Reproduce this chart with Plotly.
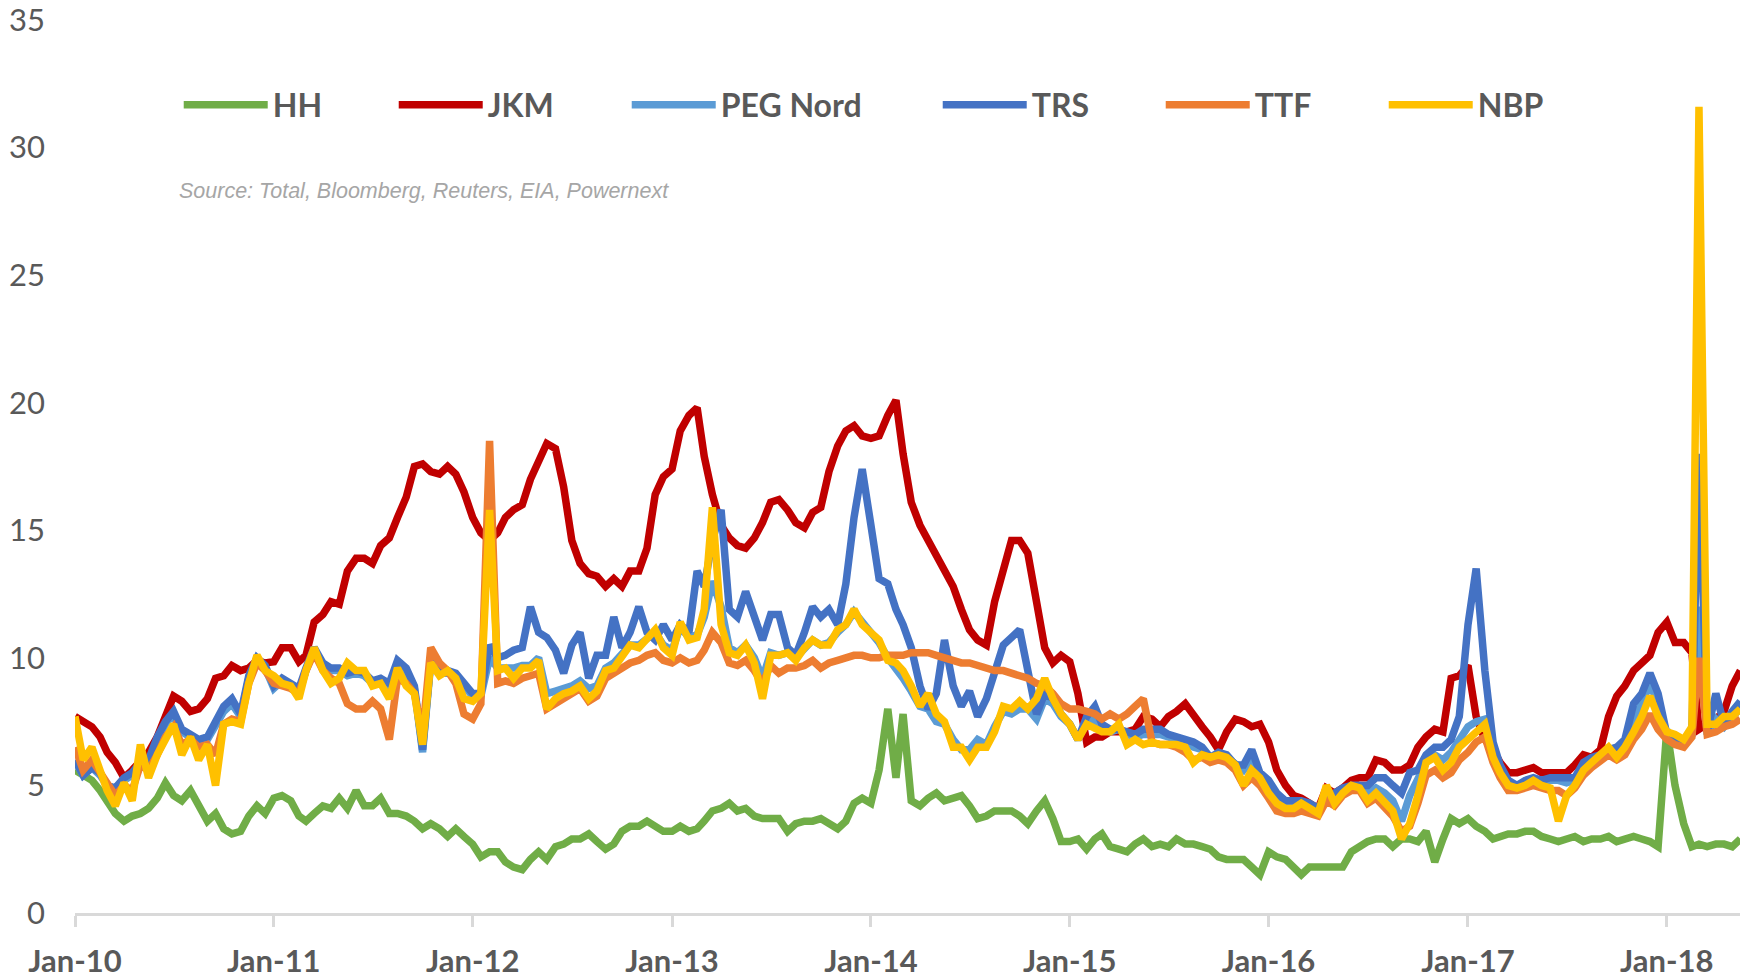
import plotly.graph_objects as go

# semi-monthly sample dates (1st and 16th of each month) from Jan 2010
def semi_monthly(n):
    out = []
    y, m = 2010, 1
    while len(out) < n:
        out.append(f"{y:04d}-{m:02d}-01")
        if len(out) < n:
            out.append(f"{y:04d}-{m:02d}-16")
        m += 1
        if m > 12:
            m, y = 1, y + 1
    return out

HH = [5.6, 5.4, 5.2, 4.8, 4.4, 3.9, 3.6, 3.8, 3.9, 4.1,
      4.5, 5.1, 4.6, 4.4, 4.8, 4.2, 3.6, 3.9, 3.3, 3.1,
      3.2, 3.8, 4.2, 3.9, 4.5, 4.6, 4.4, 3.8, 3.6, 3.9,
      4.2, 4.1, 4.5, 4.1, 4.8, 4.2, 4.2, 4.5, 3.9, 3.9,
      3.8, 3.6, 3.3, 3.5, 3.3, 3.0, 3.3, 3.0, 2.7, 2.2,
      2.4, 2.4, 2.0, 1.8, 1.7, 2.1, 2.4, 2.1, 2.6, 2.7,
      2.9, 2.9, 3.1, 2.8, 2.5, 2.7, 3.2, 3.4, 3.4, 3.6,
      3.4, 3.2, 3.2, 3.4, 3.2, 3.3, 3.6, 4.0, 4.1, 4.3,
      4.0, 4.1, 3.8, 3.7, 3.7, 3.7, 3.2, 3.5, 3.6, 3.6,
      3.7, 3.5, 3.3, 3.6, 4.3, 4.5, 4.3, 5.6, 8.0, 5.3,
      7.8, 4.4, 4.2, 4.5, 4.7, 4.4, 4.5, 4.6, 4.2, 3.7,
      3.8, 4.0, 4.0, 4.0, 3.8, 3.5, 4.0, 4.4, 3.7, 2.8,
      2.8, 2.9, 2.5, 2.9, 3.1, 2.6, 2.5, 2.4, 2.7, 2.9,
      2.6, 2.7, 2.6, 2.9, 2.7, 2.7, 2.6, 2.5, 2.2, 2.1,
      2.1, 2.1, 1.8, 1.5, 2.4, 2.2, 2.1, 1.8, 1.5, 1.8,
      1.8, 1.8, 1.8, 1.8, 2.4, 2.6, 2.8, 2.9, 2.9, 2.6,
      2.9, 2.9, 2.8, 3.2, 2.0, 2.9, 3.7, 3.5, 3.7, 3.4,
      3.2, 2.9, 3.0, 3.1, 3.1, 3.2, 3.2, 3.0, 2.9, 2.8,
      2.9, 3.0, 2.8, 2.9, 2.9, 3.0, 2.8, 2.9, 3.0, 2.9,
      2.8, 2.6, 7.2, 5.0, 3.5, 2.6, 2.7, 2.6, 2.7, 2.7,
      2.6, 2.9]

JKM = [7.7, 7.5, 7.3, 6.9, 6.3, 5.9, 5.3, 5.6, 5.9, 6.3,
       6.9, 7.7, 8.5, 8.3, 7.9, 8.0, 8.4, 9.2, 9.3, 9.7,
       9.5, 9.6, 9.9, 9.8, 9.85, 10.4, 10.4, 9.85, 10.1, 11.4,
       11.7, 12.2, 12.1, 13.4, 13.9, 13.9, 13.7, 14.4, 14.7, 15.5,
       16.3, 17.5, 17.6, 17.3, 17.2, 17.5, 17.2, 16.5, 15.5, 14.9,
       14.6, 14.9, 15.5, 15.8, 16.0, 17.0, 17.7, 18.4, 18.2, 16.7,
       14.6, 13.7, 13.3, 13.2, 12.8, 13.1, 12.8, 13.4, 13.4, 14.3,
       16.4, 17.1, 17.4, 18.9, 19.5, 19.8, 17.9, 16.4, 15.2, 14.7,
       14.4, 14.3, 14.7, 15.3, 16.1, 16.2, 15.8, 15.3, 15.1, 15.7,
       15.9, 17.3, 18.3, 18.9, 19.1, 18.7, 18.6, 18.7, 19.5, 20.1,
       18.0, 16.1, 15.2, 14.6, 14.0, 13.4, 12.8, 11.9, 11.1, 10.7,
       10.5, 12.2, 13.5, 14.6, 14.6, 14.1, 12.2, 10.4, 9.8, 10.1,
       9.85, 8.6, 6.7, 6.9, 6.9, 7.1, 7.1, 7.1, 7.2, 7.7,
       7.6, 7.3, 7.7, 7.9, 8.2, 7.7, 7.3, 6.9, 6.4, 7.1,
       7.6, 7.5, 7.3, 7.4, 6.7, 5.6, 5.0, 4.6, 4.5, 4.3,
       4.1, 4.9, 4.7, 4.9, 5.2, 5.3, 5.3, 6.0, 5.9, 5.6,
       5.6, 5.8, 6.5, 6.9, 7.2, 7.1, 9.2, 9.3, 9.7, 7.7,
       6.8, 6.4, 5.9, 5.5, 5.5, 5.6, 5.7, 5.5, 5.5, 5.5,
       5.5, 5.8, 6.2, 6.1, 6.4, 7.7, 8.5, 8.9, 9.5, 9.8,
       10.1, 11.0, 11.4, 10.6, 10.6, 10.2, 7.2, 7.4, 7.6, 7.9,
       8.9, 9.5]

PEG_NORD = [6.0, 5.4, 5.7, 5.4, 5.0, 4.8, 5.2, 5.4, 5.8, 5.9,
            6.8, 7.4, 7.8, 7.1, 6.9, 6.7, 6.8, 7.3, 7.9, 8.2,
            7.7, 9.2, 9.9, 9.6, 8.8, 9.1, 8.9, 8.7, 9.5, 10.3,
            9.7, 9.5, 9.5, 9.3, 9.4, 9.3, 9.0, 9.1, 8.9, 9.8,
            9.5, 8.8, 6.3, 9.8, 9.4, 9.4, 9.3, 8.9, 8.5, 8.5,
            10.0, 9.6, 9.6, 9.6, 9.7, 9.7, 10.0, 8.6, 8.7, 8.8,
            8.9, 9.1, 8.8, 8.9, 9.6, 9.8, 10.2, 10.5, 10.5, 10.8,
            11.0, 10.5, 10.3, 11.2, 10.8, 10.9, 11.6, 13.0, 12.0, 10.4,
            10.2, 10.5, 10.0, 9.2, 10.2, 10.1, 10.2, 10.0, 10.4, 10.7,
            10.5, 10.6, 11.0, 11.3, 11.8, 11.4, 10.9, 10.6, 10.0, 9.6,
            9.2, 8.7, 8.1, 8.0, 7.5, 7.4, 6.8, 6.4, 6.4, 6.8,
            6.6, 7.3, 7.9, 7.8, 8.0, 8.0, 7.6, 8.4, 8.2, 7.7,
            7.4, 6.8, 7.5, 7.6, 7.2, 7.1, 7.2, 7.0, 6.9, 7.0,
            7.0, 7.0, 6.9, 6.8, 6.7, 6.5, 6.4, 6.1, 6.2, 6.1,
            5.8, 5.6, 6.0, 5.4, 5.0, 4.6, 4.3, 4.3, 4.3, 4.2,
            4.0, 4.7, 4.5, 4.8, 5.0, 5.0, 4.7, 4.9, 4.7, 4.4,
            3.6, 4.6, 5.2, 5.9, 6.2, 6.0, 6.3, 6.8, 7.3, 7.5,
            7.6, 6.4, 5.6, 5.1, 5.0, 5.1, 5.2, 5.1, 5.2, 5.2,
            5.1, 5.2, 5.7, 6.0, 6.2, 6.4, 6.3, 6.6, 7.6, 8.2,
            9.0, 8.2, 7.0, 6.8, 6.7, 7.0, 12.0, 7.0, 7.6, 7.3,
            7.7, 8.0]

TRS = [6.0, 5.4, 5.7, 5.5, 5.0, 4.9, 5.3, 5.5, 5.9, 6.0,
       6.9, 7.5, 7.9, 7.2, 7.0, 6.8, 6.9, 7.5, 8.1, 8.4,
       7.8, 9.3, 10.0, 9.7, 8.9, 9.2, 9.0, 8.8, 9.6, 10.4,
       9.8, 9.6, 9.6, 9.4, 9.5, 9.4, 9.1, 9.2, 9.0, 9.9,
       9.6, 8.9, 6.4, 9.9, 9.5, 9.5, 9.4, 9.0, 8.6, 8.6,
       10.5, 10.0, 10.1, 10.3, 10.4, 12.0, 11.0, 10.8, 10.3, 9.4,
       10.5, 11.0, 9.2, 10.1, 10.1, 11.6, 10.4, 11.0, 12.0, 11.0,
       10.7, 11.3, 10.7, 11.3, 11.0, 13.4, 12.8, 14.6, 15.8, 11.9,
       11.6, 12.6, 11.6, 10.7, 11.7, 11.7, 10.4, 10.1, 11.0, 12.0,
       11.6, 11.9, 11.3, 12.9, 15.5, 17.4, 15.2, 13.1, 12.9, 11.9,
       11.3, 10.4, 8.9, 8.0, 8.6, 10.7, 8.9, 8.1, 8.7, 7.7,
       8.4, 9.5, 10.5, 10.8, 11.1, 9.5, 7.8, 8.6, 8.4, 7.8,
       7.4, 6.8, 7.7, 8.1, 7.4, 7.2, 7.2, 7.1, 7.0, 7.2,
       7.2, 7.2, 7.0, 6.9, 6.8, 6.7, 6.5, 6.1, 6.3, 6.2,
       5.8, 5.8, 6.4, 5.5, 5.2, 4.7, 4.4, 4.4, 4.4, 4.3,
       4.1, 4.6, 4.7, 4.9, 5.0, 5.0, 5.0, 5.3, 5.3, 5.0,
       4.7, 5.5, 5.6, 6.2, 6.5, 6.5, 6.8, 7.7, 11.3, 13.5,
       9.5, 6.7, 5.8, 5.2, 5.0, 5.2, 5.3, 5.2, 5.3, 5.3,
       5.3, 5.3, 5.9, 6.1, 6.2, 6.4, 6.5, 6.8, 8.2, 8.6,
       9.4, 8.6, 7.0, 6.8, 6.8, 7.0, 18.0, 7.1, 8.6, 7.4,
       7.9, 8.3]

TTF = [6.5, 5.6, 6.0, 5.5, 5.0, 4.6, 5.0, 4.8, 5.8, 5.6,
       6.2, 6.9, 7.3, 6.6, 6.8, 6.5, 6.6, 6.2, 7.4, 7.6,
       7.5, 9.0, 9.8, 9.5, 9.0, 8.9, 8.8, 8.6, 9.5, 10.2,
       9.5, 9.2, 9.0, 8.2, 8.0, 8.0, 8.3, 8.0, 6.8, 9.2,
       9.0, 8.6, 7.0, 10.4, 9.8, 9.5, 9.0, 7.8, 7.6, 8.2,
       18.5, 9.0, 9.1, 9.0, 9.2, 9.3, 9.4, 8.0, 8.2, 8.4,
       8.6, 8.8, 8.3, 8.5, 9.2, 9.4, 9.6, 9.8, 9.9, 10.1,
       10.2, 9.9, 9.8, 10.0, 9.8, 9.9, 10.3, 11.0, 10.6, 9.8,
       9.7, 9.9, 9.5, 9.0, 9.7, 9.4, 9.6, 9.6, 9.7, 9.9,
       9.6, 9.8, 9.9, 10.0, 10.1, 10.1, 10.0, 10.0, 10.1, 10.1,
       10.1, 10.2, 10.2, 10.2, 10.1, 10.0, 9.9, 9.8, 9.8, 9.7,
       9.6, 9.5, 9.5, 9.4, 9.3, 9.2, 9.0, 8.9, 8.6, 8.2,
       8.0, 8.0, 7.9, 7.8, 7.6, 7.8, 7.6, 7.8, 8.1, 8.4,
       6.7, 6.6, 6.6, 6.5, 6.3, 6.0, 6.1, 5.9, 6.0, 5.9,
       5.6, 5.0, 5.3, 5.0, 4.5, 4.0, 3.9, 3.9, 4.0, 3.9,
       3.8, 4.4, 4.2, 4.6, 4.8, 4.8, 4.3, 4.5, 4.1, 3.8,
       3.2, 3.4, 4.3, 5.4, 5.6, 5.3, 5.5, 6.0, 6.3, 6.7,
       6.9, 5.9, 5.3, 4.8, 4.8, 4.9, 5.0, 4.9, 4.8, 4.8,
       4.6, 4.9, 5.4, 5.7, 6.0, 6.2, 6.0, 6.2, 6.8, 7.2,
       7.8, 7.2, 6.8, 6.6, 6.5, 6.9, 10.0, 7.0, 7.1, 7.3,
       7.4, 7.6]

NBP = [7.7, 6.0, 6.5, 5.6, 4.8, 4.2, 5.1, 4.4, 6.6, 5.3,
       6.2, 6.8, 7.4, 6.2, 6.9, 6.0, 6.6, 5.0, 7.4, 7.5,
       7.4, 9.0, 10.1, 9.5, 9.3, 9.0, 8.9, 8.4, 9.5, 10.4,
       9.5, 9.0, 9.2, 9.8, 9.5, 9.5, 8.9, 9.0, 8.4, 9.6,
       8.9, 8.6, 6.6, 9.8, 9.3, 9.5, 9.2, 8.4, 8.3, 8.6,
       15.8, 9.5, 9.6, 9.2, 9.6, 9.6, 9.9, 8.0, 8.4, 8.6,
       8.7, 8.9, 8.4, 8.7, 9.5, 9.6, 10.1, 10.5, 10.4, 10.7,
       11.1, 10.4, 10.1, 11.4, 10.7, 10.8, 11.9, 15.9, 11.3, 10.2,
       10.1, 10.5, 9.8, 8.4, 10.1, 10.1, 10.2, 9.9, 10.4, 10.7,
       10.5, 10.5, 11.1, 11.3, 11.9, 11.3, 11.0, 10.7, 9.9, 9.8,
       9.5, 8.9, 8.1, 8.6, 7.8, 7.5, 6.5, 6.5, 6.0, 6.5,
       6.5, 7.1, 8.1, 8.0, 8.3, 8.0, 8.4, 9.2, 8.4, 7.8,
       7.4, 6.8, 7.4, 7.2, 7.1, 7.1, 7.4, 6.6, 6.8, 6.6,
       6.7, 6.6, 6.6, 6.6, 6.5, 5.9, 6.2, 6.1, 6.2, 6.1,
       5.8, 5.0, 5.6, 5.3, 4.7, 4.3, 4.1, 4.1, 4.3, 4.1,
       3.9, 5.0, 4.3, 4.7, 5.0, 4.9, 4.4, 4.7, 4.3, 4.0,
       2.9, 3.5, 4.6, 5.9, 6.1, 5.6, 5.9, 6.5, 6.8, 7.1,
       7.4, 6.1, 5.5, 5.0, 4.9, 5.0, 5.2, 5.0, 4.9, 3.6,
       4.6, 5.0, 5.6, 5.9, 6.2, 6.5, 6.1, 6.5, 7.1, 7.7,
       8.5, 7.7, 7.1, 7.0, 6.8, 7.3, 31.6, 7.4, 7.4, 7.7,
       7.7, 8.0]

SERIES = [
    ("HH", HH, "#70AD47", 116),
    ("JKM", JKM, "#C00000", 134),
    ("PEG Nord", PEG_NORD, "#5B9BD5", 212),
    ("TRS", TRS, "#4472C4", 124),
    ("TTF", TTF, "#ED7D31", 124),
    ("NBP", NBP, "#FFC000", 124),
]

n_max = max(len(s[1]) for s in SERIES)
DATES = semi_monthly(n_max)

X_TICK_FORMAT = "%b-%y"
SOURCE = "Source: Total, Bloomberg, Reuters, EIA, Powernext"

fig = go.Figure()
for name, vals, color, lw in SERIES:
    fig.add_trace(go.Scatter(
        x=DATES[:len(vals)], y=vals, name=name, mode="lines",
        line=dict(color=color, width=7.5),
        legendwidth=lw,
    ))

fig.update_layout(
    width=1748, height=976,
    margin=dict(l=66.5, r=8, t=12, b=71, autoexpand=False),
    paper_bgcolor="white", plot_bgcolor="white",
    font=dict(family="Lato", color="#595959"),
    showlegend=True,
    legend=dict(
        orientation="h", x=0.062, xanchor="left", y=0.905, yanchor="middle",
        font=dict(family="Lato", size=32, color="#595959", weight="bold"),
        itemwidth=84, bgcolor="rgba(0,0,0,0)", traceorder="normal",
    ),
    xaxis=dict(
        type="date", range=["2010-01-01", "2018-05-30"],
        tick0="2010-01-01", dtick="M12", tickformat=X_TICK_FORMAT,
        showgrid=False, zeroline=False,
        showline=True, linecolor="#D9D9D9", linewidth=3,
        ticks="outside", ticklen=11, tickwidth=3, tickcolor="#D9D9D9",
        tickfont=dict(family="Lato", size=31, color="#595959", weight="bold"),
        ticklabelstandoff=8, ticklabeloverflow="allow",
    ),
    yaxis=dict(
        range=[0, 35], dtick=5, tick0=0,
        showgrid=False, zeroline=False, showline=False,
        tickfont=dict(family="Lato", size=31, color="#595959"),
        ticklabelstandoff=29, ticklabeloverflow="allow",
    ),
    annotations=[dict(
        text=SOURCE, xref="paper", yref="paper",
        x=0.061, y=0.8085, xanchor="left", yanchor="middle", showarrow=False,
        font=dict(family="Liberation Sans", size=21.5, color="#A6A6A6", style="italic"),
    )],
)

fig.write_html("out.html")
